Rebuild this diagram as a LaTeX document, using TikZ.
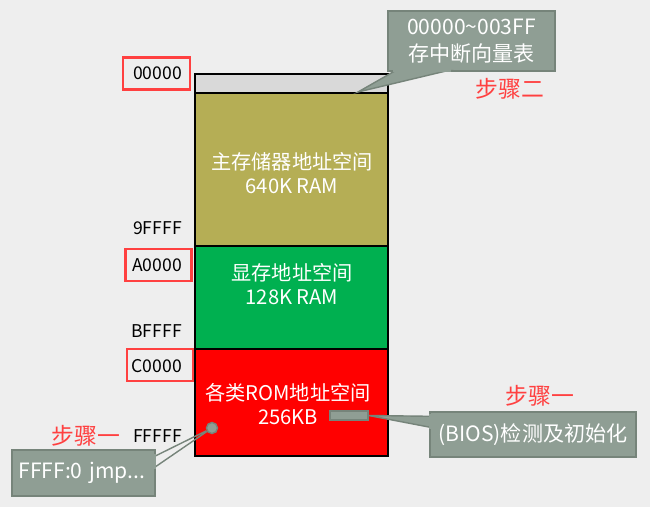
\documentclass[tikz,border=0pt]{standalone}
\usepackage{fontspec}
\setmainfont{Noto Sans CJK SC}
\usepackage{tikz}
\usetikzlibrary{positioning, calc}
\definecolor{pagegray}{RGB}{238,238,238}
\definecolor{vecgray}{RGB}{217,217,217}
\definecolor{ramolive}{RGB}{181,174,85}
\definecolor{vramgreen}{RGB}{0,176,80}
\definecolor{romred}{RGB}{255,0,0}
\definecolor{notegray}{RGB}{143,158,148}
\definecolor{noteedge}{RGB}{118,132,122}
\definecolor{markred}{RGB}{255,64,64}

\tikzset{
  region/.style={draw=black, line width=0.8pt, minimum width=3.86cm,
                 inner sep=0pt, outer sep=0pt},
  regtext/.style={text=white, font=\fontsize{11.5}{14}\selectfont, align=center},
  addr/.style={anchor=east, font=\fontsize{10}{12}\selectfont},
  addrbox/.style={draw=markred, line width=1.4pt, minimum width=1.32cm,
                  minimum height=0.64cm},
  note/.style={fill=notegray, draw=noteedge, line width=0.8pt, text=white,
               font=\fontsize{12}{15}\selectfont, align=center, inner sep=0pt},
  stepmark/.style={text=markred, font=\fontsize{13}{15}\selectfont}
}

\begin{document}
\begin{tikzpicture}[x=0.02cm, y=-0.02cm]

\useasboundingbox[fill=pagegray] (0,0) rectangle (650,507);

% memory map, top to bottom
\node[region, fill=vecgray, minimum height=0.38cm, anchor=north west] (vec) at (195,74) {};
\node[region, fill=ramolive, minimum height=3.06cm, below=0pt of vec] (ram) {};
\node[region, fill=vramgreen, minimum height=2.06cm, below=0pt of ram] (vram) {};
\node[region, fill=romred, minimum height=2.14cm, below=0pt of vram] (rom) {};

\node[regtext] (ramtxt) at (292,173) {主存储器地址空间\\640K RAM};
\node[regtext] (vramtxt) at (292,284) {显存地址空间\\128K RAM};
\node[regtext] (romtxt) at (288,404) {各类ROM地址空间\\256KB};

% addresses on the left
\node[addr] (a00000) at (188,73) {00000};
\node[addr] (a9ffff) at (188,228) {9FFFF};
\node[addr] (aa0000) at (188,265) {A0000};
\node[addr] (abffff) at (188,331) {BFFFF};
\node[addr] (ac0000) at (188,366) {C0000};
\node[addr] (afffff) at (188,436) {FFFFF};
\node[addrbox, minimum width=1.34cm] (m00000) at (156.5,73.5) {};
\node[addrbox] (ma0000) at (158.5,265) {};
\node[addrbox] (mc0000) at (160,365) {};

% interrupt vector table note
\coordinate (vectip) at (358,92);
\node[note, minimum width=3.34cm, minimum height=1.2cm] (vecnote) at (471.5,41) {00000\textasciitilde003FF\\存中断向量表};
\fill[notegray, draw=noteedge, line width=0.8pt] ($(vecnote.south west)+(8,-1)$) -- (vectip) -- ($(vecnote.south west)+(60,-1)$) -- cycle;
\fill[notegray] ($(vecnote.south west)+(6,-3)$) rectangle ($(vecnote.south west)+(64,0)$);
\node[stepmark] (step2) at (510,89) {步骤二};

% BIOS note
\node[fill=notegray, draw=noteedge, line width=0.8pt, minimum width=0.76cm, minimum height=0.18cm, inner sep=0pt] (biosbar) at (349,415.5) {};
\node[note, minimum width=4.12cm, minimum height=0.9cm] (biosnote) at (533,434.5) {(BIOS)检测及初始化};
\fill[notegray, draw=noteedge, line width=0.8pt] ($(biosnote.north west)+(1,5)$) -- (biosbar.east) -- ($(biosnote.north west)+(1,16)$) -- cycle;
\fill[notegray] ($(biosnote.north west)+(0,3)$) rectangle ($(biosnote.north west)+(3,18)$);
\node[stepmark] (step1r) at (540,396) {步骤一};

% reset entry note
\node[circle, fill=notegray, draw=noteedge, line width=0.8pt, minimum size=0.22cm, inner sep=0pt] (entry) at (212,428) {};
\node[note, minimum width=2.86cm, minimum height=0.92cm, align=left, text width=2.6cm] (jmpnote) at (83.5,473) {FFFF:0 jmp...};
\fill[notegray, draw=noteedge, line width=0.8pt] ($(jmpnote.north east)+(-1,7)$) -- (entry) -- ($(jmpnote.north east)+(-1,18)$) -- cycle;
\fill[notegray] ($(jmpnote.north east)+(-3,5)$) rectangle ($(jmpnote.north east)+(0,20)$);
\node[stepmark] (step1l) at (86,436) {步骤一};

\end{tikzpicture}
\end{document}
